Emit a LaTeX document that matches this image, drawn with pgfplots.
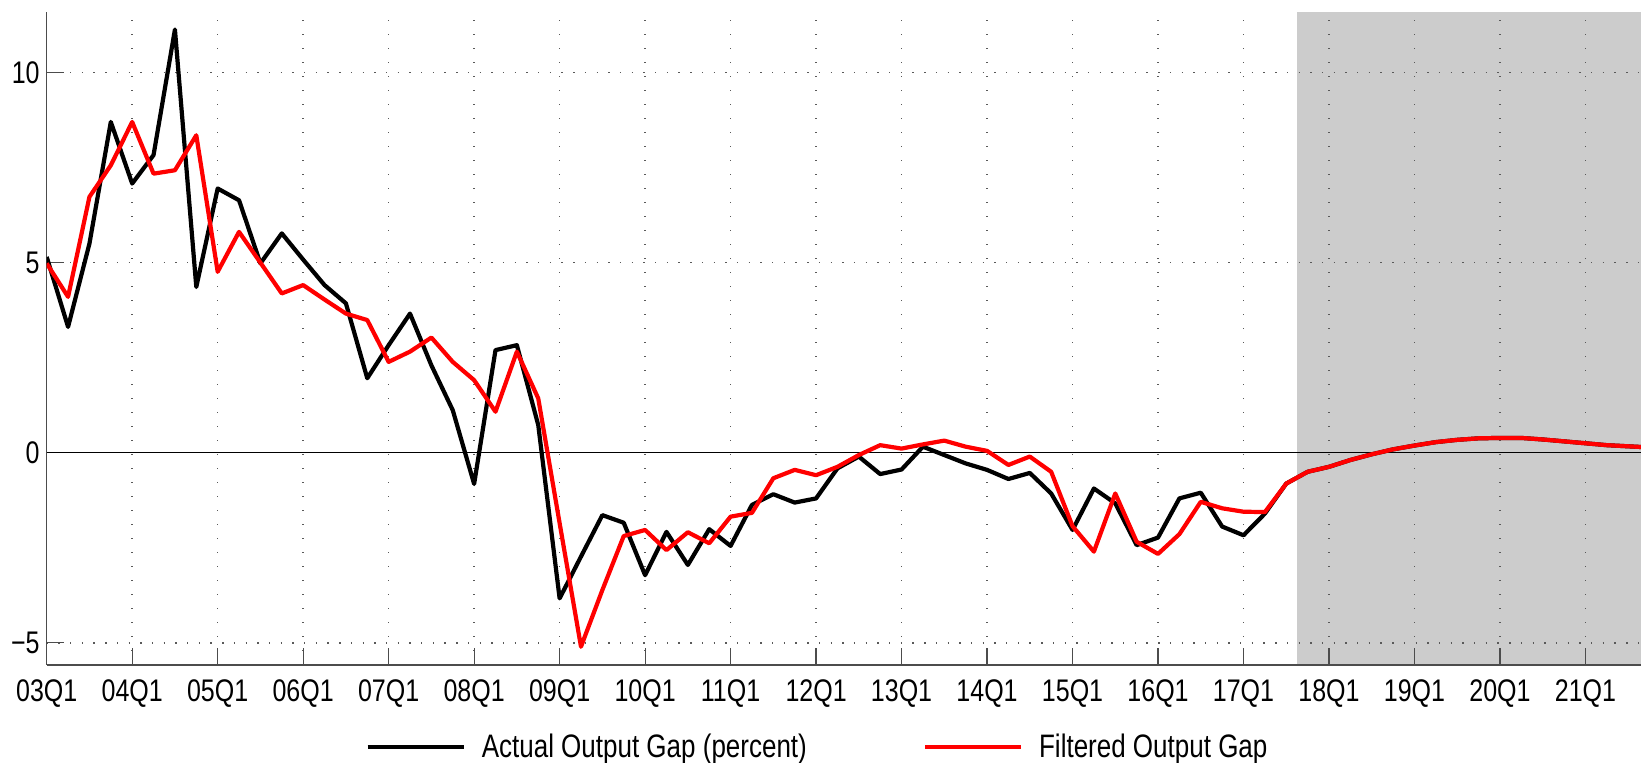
\documentclass[border=0pt]{standalone}
\usepackage{fontspec}
\setmainfont{Liberation Sans}
\usepackage{graphicx}
\usepackage{pgfplots}
\pgfplotsset{compat=1.18}
\newcommand{\vs}[1]{\scalebox{1}[1.25]{#1}}
\definecolor{fcshade}{HTML}{CCCCCC}

\pgfplotstableread{
i actual filtered
0 5.15 4.98
1 3.31 4.10
2 5.50 6.73
3 8.70 7.56
4 7.08 8.70
5 7.83 7.34
6 11.13 7.43
7 4.36 8.35
8 6.95 4.76
9 6.64 5.81
10 4.98 5.00
11 5.77 4.19
12 5.08 4.41
13 4.41 4.03
14 3.93 3.66
15 1.96 3.49
16 2.83 2.39
17 3.66 2.66
18 2.30 3.03
19 1.12 2.39
20 -0.82 1.91
21 2.70 1.08
22 2.83 2.66
23 0.73 1.43
24 -3.83 -1.85
25 -2.73 -5.10
26 -1.64 -3.61
27 -1.84 -2.19
28 -3.22 -2.03
29 -2.08 -2.56
30 -2.95 -2.09
31 -2.01 -2.38
32 -2.45 -1.68
33 -1.37 -1.58
34 -1.09 -0.67
35 -1.31 -0.45
36 -1.20 -0.59
37 -0.41 -0.37
38 -0.10 -0.06
39 -0.56 0.20
40 -0.44 0.11
41 0.16 0.22
42 -0.06 0.32
43 -0.28 0.16
44 -0.45 0.05
45 -0.69 -0.32
46 -0.53 -0.10
47 -1.07 -0.50
48 -2.03 -1.93
49 -0.94 -2.60
50 -1.33 -1.07
51 -2.43 -2.34
52 -2.23 -2.66
53 -1.20 -2.14
54 -1.05 -1.29
55 -1.94 -1.46
56 -2.17 -1.55
57 -1.60 -1.56
58 -0.81 -0.81
59 -0.50 -0.50
60 -0.37 -0.37
61 -0.19 -0.19
62 -0.04 -0.04
63 0.09 0.09
64 0.19 0.19
65 0.28 0.28
66 0.34 0.34
67 0.38 0.38
68 0.39 0.39
69 0.39 0.39
70 0.35 0.35
71 0.30 0.30
72 0.25 0.25
73 0.20 0.20
74 0.17 0.17
75 0.14 0.14
}\gaptable

\begin{document}
\begin{tikzpicture}
\begin{axis}[
  set layers,
  scale only axis, width=797.2pt, height=326.65pt,
  xmin=0, xmax=74.6, ymin=-5.58, ymax=11.6,
  axis x line*=bottom, axis y line*=left,
  axis line style={black!70, line width=0.6pt},
  tick align=inside,
  major tick length=8.5pt,
  tick style={black!70, line width=0.6pt},
  xtick={0,4,...,72},
  xticklabels={\vs{03Q1},\vs{04Q1},\vs{05Q1},\vs{06Q1},\vs{07Q1},\vs{08Q1},\vs{09Q1},\vs{10Q1},\vs{11Q1},\vs{12Q1},\vs{13Q1},\vs{14Q1},\vs{15Q1},\vs{16Q1},\vs{17Q1},\vs{18Q1},\vs{19Q1},\vs{20Q1},\vs{21Q1}},
  ytick={-5,0,5,10},
  yticklabels={\vs{−5},\vs{0},\vs{5},\vs{10}},
  grid=major,
  x grid style={black!65, line width=0.7pt, dash pattern=on 0.7pt off 6.3pt},
  y grid style={black!65, line width=0.7pt, dash pattern=on 0.7pt off 5.15pt},
  tick label style={font=\fontsize{12.5}{15}\selectfont},
  xticklabel style={yshift=-4pt},
  legend columns=2,
  legend style={draw=none, fill=none, at={(0.4841,0)}, yshift=-41pt, anchor=center,
    font=\fontsize{13}{15}\selectfont,
    /tikz/every odd column/.append style={column sep=6pt},
    /tikz/every even column/.append style={column sep=56pt}},
  legend image code/.code={\draw[#1] (0pt,0pt) -- (48pt,0pt);},
]
\begin{pgfonlayer}{axis background}
\fill[fcshade] (axis cs:58.5,-5.58) rectangle (axis cs:74.6,11.6);
\end{pgfonlayer}
\draw[black, line width=0.6pt] (axis cs:0,0) -- (axis cs:74.6,0);
\addplot[black, line width=2.1pt, line join=round] table[x=i, y=actual] {\gaptable};
\addlegendentry{\vs{Actual Output Gap (percent)}}
\addplot[red, line width=2.1pt, line join=round] table[x=i, y=filtered] {\gaptable};
\addlegendentry{\vs{Filtered Output Gap}}
\end{axis}
\pgfresetboundingbox
\path[use as bounding box] (-23.35pt,-49pt) rectangle (797.2pt,332.5pt);
\end{tikzpicture}
\end{document}
